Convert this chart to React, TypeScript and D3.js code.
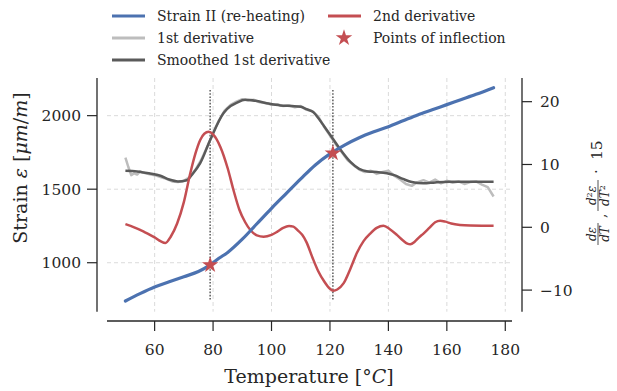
import * as d3 from "d3";

// strain during re-heating (left axis)
const strainT = [50, 55, 60, 65, 70, 75, 79, 82, 85, 90, 95, 100, 105, 110, 115, 120, 125, 130, 135, 140, 145, 150, 155, 160, 165, 170, 176];
const strainV = [740, 790, 835, 870, 905, 940, 985, 1030, 1070, 1160, 1265, 1370, 1470, 1570, 1665, 1740, 1800, 1850, 1890, 1925, 1965, 2005, 2040, 2075, 2110, 2145, 2190];

// raw 1st derivative (right axis)
const d1T = [50, 51, 52, 53, 54, 55, 56, 58, 60, 62, 64, 66, 68, 70, 72, 74, 76, 78, 80, 82, 84, 86, 88, 90, 92, 94, 96, 98, 100, 102, 104, 106, 108, 110, 112, 114, 116, 118, 120, 122, 124, 126, 128, 130, 132, 134, 136, 138, 140, 142, 144, 146, 148, 150, 152, 154, 156, 158, 160, 162, 164, 166, 168, 170, 172, 174, 176];
const d1V = [11.1, 9.6, 8.3, 8.6, 8.4, 8.9, 8.7, 8.5, 8.3, 8.0, 7.7, 7.3, 7.2, 7.4, 8.0, 9.2, 10.8, 12.8, 15.0, 17.0, 18.6, 19.5, 20.0, 20.4, 20.2, 20.3, 19.9, 19.8, 19.5, 19.6, 19.3, 19.4, 19.1, 19.3, 18.7, 18.5, 17.6, 16.0, 14.6, 13.2, 12.0, 10.7, 9.9, 9.2, 8.8, 9.0, 8.5, 8.8, 9.0, 8.2, 7.6, 6.9, 6.6, 7.2, 7.5, 7.1, 7.6, 7.0, 7.4, 7.1, 7.3, 6.9, 7.2, 7.3, 6.8, 6.4, 4.9];

// smoothed 1st derivative
const s1T = [50, 54, 58, 62, 65, 68, 71, 73, 75.6, 79, 83.6, 86, 88, 91, 95, 99, 103, 107, 110, 112, 114.4, 116, 118, 121, 124, 127, 130, 133, 136, 139.5, 142, 145, 148, 152, 156, 161, 166, 171, 176];
const s1V = [9.0, 8.9, 8.6, 8.2, 7.6, 7.3, 7.5, 8.5, 10.2, 13.9, 18.2, 19.3, 19.8, 20.3, 20.1, 19.7, 19.4, 19.3, 19.2, 18.8, 18.3, 17.4, 16.1, 14.1, 12.1, 10.4, 9.3, 8.9, 8.8, 8.6, 8.3, 7.7, 7.2, 7.0, 7.15, 7.26, 7.26, 7.26, 7.26];

// 2nd derivative * 15
const d2T = [50, 53, 56.3, 60, 62, 63.7, 65.5, 67.7, 70, 72.2, 74, 75.6, 77, 78.5, 80, 82.5, 85, 87, 89, 91, 92.7, 95, 97.3, 100, 102, 104, 106, 107.5, 109, 110.5, 112, 114, 116, 118, 120, 121.2, 122.5, 124.7, 127, 129.2, 131.5, 133.8, 136, 138.3, 140.5, 142.9, 145, 146.5, 147.5, 149, 150.5, 152, 154, 156, 157.7, 159.5, 161.5, 164.5, 168, 172, 176];
const d2V = [0.5, 0.0, -0.7, -1.6, -2.2, -2.5, -1.5, 0.6, 4.0, 8.6, 11.8, 13.9, 14.9, 15.2, 14.8, 12.8, 9.4, 5.9, 2.8, 0.8, -0.4, -1.3, -1.5, -1.2, -0.7, -0.1, 0.2, 0.1, -0.5, -1.2, -2.4, -4.8, -7.0, -8.6, -9.8, -10.1, -9.9, -8.9, -6.6, -4.1, -2.2, -1.0, -0.1, 0.26, -0.3, -1.2, -2.1, -2.6, -2.7, -2.3, -1.6, -1.0, -0.1, 0.8, 1.05, 0.9, 0.6, 0.37, 0.28, 0.26, 0.26];

const inflT = [79, 121];
const inflStrain = [985, 1745];

const xTicks = [60, 80, 100, 120, 140, 160, 180];
const yLeftTicks = [1000, 1500, 2000];
const yRightTicks = [-10, 0, 10, 20];

const BLUE = "#4c72b0";
const RED = "#c44e52";
const LGRAY = "#bdbdbd";
const DGRAY = "#5a5a5a";
const INK = "#262626";
const FONT = "DejaVu Serif, serif";

export default function App() {
  const W = 617;
  const H = 391;
  const left = 107, right = 512, top = 78, bottom = 311.7;

  const x = d3.scaleLinear().domain([43.7, 182.3]).range([left, right]);
  const yL = d3.scaleLinear().domain([667, 2256]).range([bottom, top]);
  const yR = d3.scaleLinear().domain([-13.44, 23.77]).range([bottom, top]);

  const mk = (ts: number[], vs: number[], ys: d3.ScaleLinear<number, number>, curve: d3.CurveFactory) =>
    d3
      .line<number>()
      .x((_, i) => x(ts[i]))
      .y((v) => ys(v))
      .curve(curve)(vs) ?? "";

  const strainPath = mk(strainT, strainV, yL, d3.curveMonotoneX);
  const d1Path = mk(d1T, d1V, yR, d3.curveLinear);
  const s1Path = mk(s1T, s1V, yR, d3.curveMonotoneX);
  const d2Path = mk(d2T, d2V, yR, d3.curveMonotoneX);

  const star = d3.symbol().type(d3.symbolStar).size(85)() ?? "";

  const legendItems = [
    { kind: "line", color: BLUE, label: "Strain II (re-heating)", lx: 112, ly: 16 },
    { kind: "line", color: LGRAY, label: "1st derivative", lx: 112, ly: 38 },
    { kind: "line", color: DGRAY, label: "Smoothed 1st derivative", lx: 112, ly: 60 },
    { kind: "line", color: RED, label: "2nd derivative", lx: 328, ly: 16 },
    { kind: "star", color: RED, label: "Points of inflection", lx: 328, ly: 38 },
  ];

  return (
    <svg width={W} height={H} style={{ position: "absolute", left: 0, top: 0 }} fontFamily={FONT}>
      <rect width={W} height={H} fill="#fff" />
      {/* grid */}
      {xTicks.map((t) => (
        <line key={"gx" + t} x1={x(t)} x2={x(t)} y1={top} y2={bottom} stroke="#d6d6d6" strokeWidth={0.9} strokeDasharray="4,3" />
      ))}
      {yLeftTicks.map((t) => (
        <line key={"gy" + t} x1={left} x2={right} y1={yL(t)} y2={yL(t)} stroke="#d6d6d6" strokeWidth={0.9} strokeDasharray="4,3" />
      ))}
      {/* inflection markers */}
      {inflT.map((t) => (
        <line key={"v" + t} x1={x(t)} x2={x(t)} y1={90} y2={300} stroke="#666" strokeWidth={1.6} strokeDasharray="1.6,1.6" />
      ))}
      {/* derivative lines */}
      <path d={d1Path} fill="none" stroke={LGRAY} strokeWidth={2.5} strokeLinejoin="round" />
      <path d={s1Path} fill="none" stroke={DGRAY} strokeWidth={2.5} />
      <path d={d2Path} fill="none" stroke={RED} strokeWidth={2.5} />
      <path d={strainPath} fill="none" stroke={BLUE} strokeWidth={3.2} strokeLinecap="round" />
      {inflT.map((t, i) => (
        <path key={"s" + t} d={star} transform={`translate(${x(t)},${yL(inflStrain[i])})`} fill={RED} />
      ))}

      {/* left axis */}
      <line x1={97} x2={97} y1={top} y2={bottom} stroke={INK} strokeWidth={1.3} />
      {yLeftTicks.map((t) => (
        <g key={"yl" + t} transform={`translate(97,${yL(t)})`}>
          <line x1={-10} x2={0} stroke={INK} strokeWidth={1.2} />
          <text x={-16} dy="0.36em" textAnchor="end" fontSize={15.5} fill={INK}>
            {t}
          </text>
        </g>
      ))}
      <text transform={`translate(27,168) rotate(-90)`} textAnchor="middle" fontSize={19} fill={INK}>
        Strain <tspan fontStyle="italic">ε</tspan> [<tspan fontStyle="italic">μm</tspan>/<tspan fontStyle="italic">m</tspan>]
      </text>

      {/* bottom axis */}
      <line x1={left} x2={right} y1={321} y2={321} stroke={INK} strokeWidth={1.3} />
      {xTicks.map((t) => (
        <g key={"xt" + t} transform={`translate(${x(t)},321)`}>
          <line y1={0} y2={10} stroke={INK} strokeWidth={1.2} />
          <text y={34} textAnchor="middle" fontSize={15.5} fill={INK}>
            {t}
          </text>
        </g>
      ))}
      <text x={309} y={383} textAnchor="middle" fontSize={19} fill={INK}>
        Temperature [°<tspan fontStyle="italic">C</tspan>]
      </text>

      {/* right axis */}
      <line x1={522} x2={522} y1={top} y2={bottom} stroke={INK} strokeWidth={1.3} />
      {yRightTicks.map((t) => (
        <g key={"yr" + t} transform={`translate(522,${yR(t)})`}>
          <line x1={0} x2={10} stroke={INK} strokeWidth={1.2} />
          <text x={18} dy="0.36em" textAnchor="start" fontSize={15.5} fill={INK}>
            {t < 0 ? "\u2212" + Math.abs(t) : t}
          </text>
        </g>
      ))}
      <g transform="translate(598,195) rotate(-90)" fill={INK} fontSize={12}>
        <text x={-39} y={-2} textAnchor="middle" fontStyle="italic">dε</text>
        <line x1={-50} x2={-28} y1={0} y2={0} stroke={INK} strokeWidth={0.8} />
        <text x={-39} y={11} textAnchor="middle" fontStyle="italic">dT</text>
        <text x={-23} y={8} fontSize={14}>,</text>
        <text x={-0.5} y={-2} textAnchor="middle" fontStyle="italic">
          d<tspan dy={-4} fontSize={8} fontStyle="normal">2</tspan><tspan dy={4}>ε</tspan>
        </text>
        <line x1={-16} x2={15} y1={0} y2={0} stroke={INK} strokeWidth={0.8} />
        <text x={-0.5} y={11} textAnchor="middle" fontStyle="italic">
          dT<tspan dy={-4} fontSize={8} fontStyle="normal">2</tspan>
        </text>
        <text x={21} y={3} fontSize={15}>·</text>
        <text x={35} y={3.5} fontSize={15.5}>15</text>
      </g>

      {/* legend */}
      {legendItems.map((d) => (
        <g key={d.label} transform={`translate(${d.lx},${d.ly})`}>
          {d.kind === "line" ? (
            <line x1={0} x2={33} stroke={d.color} strokeWidth={3} />
          ) : (
            <path d={star} transform="translate(16,0)" fill={d.color} />
          )}
          <text x={45} dy="0.35em" fontSize={14} fill={INK}>
            {d.label}
          </text>
        </g>
      ))}
    </svg>
  );
}
